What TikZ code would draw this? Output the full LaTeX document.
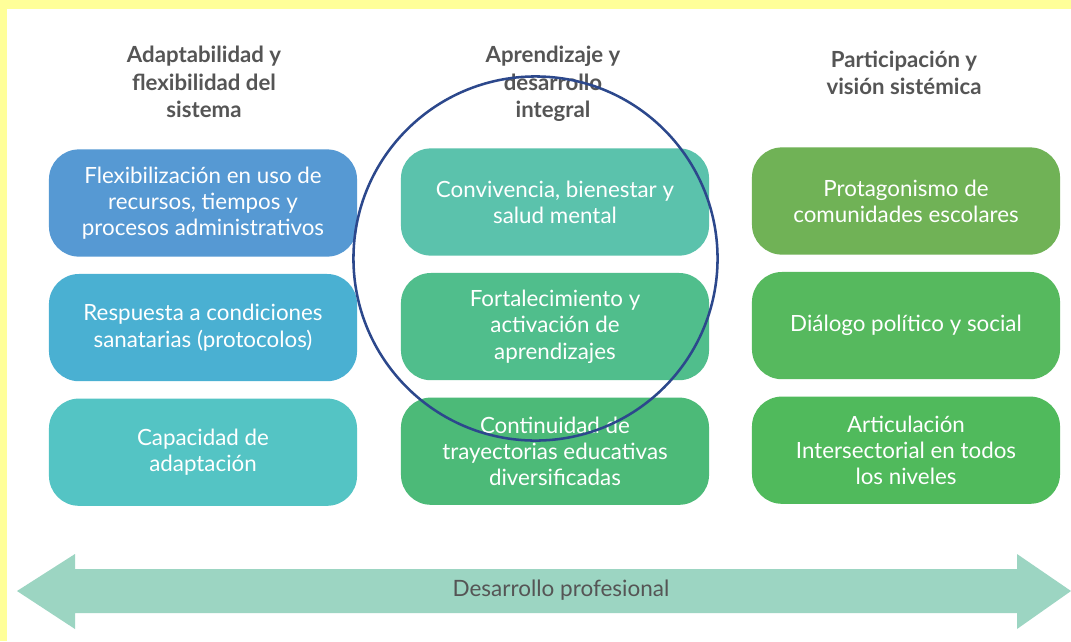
\documentclass[tikz,border=0pt]{standalone}
\usepackage{fontspec}
\setmainfont{Lato}
\usepackage{tikz}
\usetikzlibrary{
  positioning,
}
\definecolor{frameyellow}{RGB}{255, 255, 153}
\definecolor{headgray}{RGB}{85, 85, 85}
\definecolor{ringblue}{RGB}{44, 72, 140}
\definecolor{arrowgreen}{RGB}{156, 213, 194}
\definecolor{adaptA}{RGB}{86, 153, 211}
\definecolor{adaptB}{RGB}{74, 176, 210}
\definecolor{adaptC}{RGB}{84, 196, 196}
\definecolor{learnA}{RGB}{91, 194, 172}
\definecolor{learnB}{RGB}{80, 190, 140}
\definecolor{learnC}{RGB}{76, 186, 120}
\definecolor{partA}{RGB}{112, 178, 86}
\definecolor{partB}{RGB}{86, 185, 94}
\definecolor{partC}{RGB}{80, 186, 92}
\tikzstyle{heading} = [
  text=headgray,
  font=\bfseries\fontsize{15.8}{19.5}\selectfont,
  align=center,
]

\begin{document}
\begin{tikzpicture}[x=0.025cm, y=-0.025cm,
                    box/.style={rounded corners=0.75cm, minimum width=7.7cm, minimum height=2.68cm,
                                text=white, align=center, node distance=0.42cm,
                                font=\fontsize{15.9}{18.7}\selectfont}]
      \useasboundingbox (0,0) rectangle (1071,641);
      \fill [frameyellow] (0,0) rectangle (1071,641);
      \fill [white] (7,9) rectangle (1071,641);

      \node [heading] (hadapt) at (204,82)
            {Adaptabilidad y\\flexibilidad del\\sistema};
      \node [heading] (hlearn) at (553,84)
            {Aprendizaje y\\desarrollo\\integral};
      \node [heading] (hpart) at (904,73)
            {Participación y\\visión sistémica};

      \node [box, fill=adaptA] (flex) at (203,203)
            {Flexibilización en uso de\\recursos, tiempos y\\procesos administrativos};
      \node [box, fill=adaptB, below=of flex] (sanit)
            {Respuesta a condiciones\\sanatarias (protocolos)};
      \node [box, fill=adaptC, below=of sanit] (capac)
            {Capacidad de\\adaptación};

      \node [box, fill=learnA] (conviv) at (555,202)
            {Convivencia, bienestar y\\salud mental};
      \node [box, fill=learnB, below=of conviv] (fortal)
            {Fortalecimiento y\\activación de\\aprendizajes};
      \node [box, fill=learnC, below=of fortal] (contin)
            {Continuidad de\\trayectorias educativas\\diversificadas};

      \node [box, fill=partA] (protag) at (906,201)
            {Protagonismo de\\comunidades escolares};
      \node [box, fill=partB, below=of protag] (dialog)
            {Diálogo político y social};
      \node [box, fill=partC, below=of dialog] (artic)
            {Articulación\\Intersectorial en todos\\los niveles};

      \node [draw=ringblue, line width=1.8pt, circle, minimum size=9.1cm] (ring) at (535.5,258.5) {};

      \fill [arrowgreen] (17,591) -- (75,554) -- (75,569) -- (1017,569) -- (1017,554)
            -- (1071,591) -- (1017,629) -- (1017,613) -- (75,613) -- (75,629) -- cycle;
      \node [text=headgray, font=\fontsize{16}{18}\selectfont] (profdev) at (561,590)
            {Desarrollo profesional};
\end{tikzpicture}
\end{document}
